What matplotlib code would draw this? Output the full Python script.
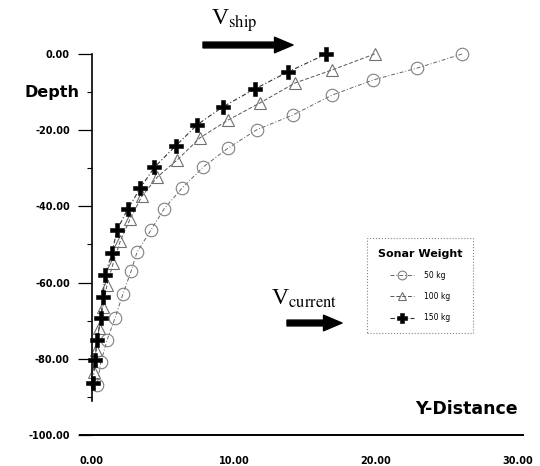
import numpy as np
import matplotlib
matplotlib.use('Agg')
import matplotlib.pyplot as plt

# datos (Y-Distance, Depth)
x_50 = [26.06, 22.9, 19.8, 16.9, 14.15, 11.6, 9.58, 7.82, 6.34, 5.07, 4.15, 3.17, 2.75, 2.18, 1.62, 1.06, 0.63, 0.35]
y_50 = [0.0, -3.7, -6.8, -10.8, -16.0, -19.9, -24.7, -29.7, -35.2, -40.7, -46.2, -52.0, -57.0, -63.0, -69.3, -75.1, -80.8, -86.9]

x_100 = [19.9, 16.9, 14.3, 11.8, 9.6, 7.6, 6.0, 4.6, 3.5, 2.7, 2.0, 1.5, 1.06, 0.77, 0.49, 0.28, 0.14]
y_100 = [0.0, -4.2, -7.6, -12.9, -17.3, -22.0, -27.8, -32.3, -37.4, -43.2, -49.0, -54.8, -60.5, -66.3, -72.0, -77.8, -83.5]

x_150 = [16.5, 13.8, 11.5, 9.2, 7.4, 5.9, 4.4, 3.4, 2.5, 1.76, 1.41, 0.92, 0.77, 0.63, 0.35, 0.21, 0.07]
y_150 = [0.0, -4.7, -9.1, -13.9, -18.6, -24.1, -29.7, -35.2, -40.8, -46.2, -52.2, -58.0, -63.8, -69.3, -75.1, -80.3, -86.4]

etiquetas = ['50 kg', '100 kg', '150 kg']
y_ticks = [0, -20, -40, -60, -80, -100]
x_ticks = [0, 10, 20, 30]

plt.rcParams['mathtext.fontset'] = 'stix'

W, H = 540, 466
fig = plt.figure(figsize=(W / 100, H / 100), dpi=100)
ax = fig.add_axes([0, 0, 1, 1])
ax.patch.set_alpha(0)


def fr(px, py):
    # pixel de la imagen -> fraccion de ejes
    return px / W, 1 - py / H


# escalas: x=0 en px 92 (14.2 px/unidad), y=0 en px 54 (3.81 px/unidad)
ax.set_xlim(-92 / 14.2, (W - 92) / 14.2)
ax.set_ylim(-(H - 54) / 3.81, 54 / 3.81)

ax.plot(x_50, y_50, linestyle=(0, (4, 2, 1, 2)), color='#666666', lw=0.7,
        marker='o', ms=9, mfc='none', mec='#808080', mew=0.8, label=etiquetas[0])
ax.plot(x_100, y_100, linestyle=(0, (4, 2)), color='#555555', lw=0.7,
        marker='^', ms=9, mfc='none', mec='#707070', mew=0.8, label=etiquetas[1])
ax.plot(x_150, y_150, linestyle=(0, (4, 2, 1, 2)), color='#333333', lw=0.8,
        marker='P', ms=10, mfc='black', mec='black', mew=0.4, label=etiquetas[2])

# ejes
for s in ['top', 'right']:
    ax.spines[s].set_visible(False)
ax.spines['left'].set_position(('data', 0))
ax.spines['left'].set_bounds(-91, 0)
ax.spines['left'].set_linewidth(1.2)
ax.spines['bottom'].set_position(('data', -100))
ax.spines['bottom'].set_bounds(-0.85, 30.35)
ax.spines['bottom'].set_linewidth(1.4)

ax.set_yticks(y_ticks)
ax.set_yticklabels(['%.2f' % v for v in y_ticks])
ax.set_yticks([-10, -30, -50, -70, -90], minor=True)
ax.tick_params(axis='y', which='major', direction='out', length=10, width=0.9, pad=6,
               labelsize=7)
ax.tick_params(axis='y', which='minor', direction='out', length=3.5, width=0.8)
ax.set_xticks(x_ticks)
ax.set_xticklabels(['%.2f' % v for v in x_ticks])
ax.tick_params(axis='x', length=0, pad=15, labelsize=7)
for t in ax.get_xticklabels() + ax.get_yticklabels():
    t.set_fontweight('bold')

ax.text(-0.85, -10, 'Depth', ha='right', va='center', fontsize=11.5, fontweight='bold')
ax.text(30.0, -93.2, 'Y-Distance', ha='right', va='center', fontsize=12.5, fontweight='bold')

# flechas y textos de velocidad
flecha = dict(arrowstyle='simple,head_length=0.95,head_width=0.8,tail_width=0.3',
              color='black', mutation_scale=14, shrinkA=0, shrinkB=0)
ax.annotate('', xy=fr(293, 45), xytext=fr(203, 45), xycoords='axes fraction',
            textcoords='axes fraction', arrowprops=flecha)
ax.annotate('', xy=fr(342, 323), xytext=fr(287, 323), xycoords='axes fraction',
            textcoords='axes fraction', arrowprops=flecha)
ax.text(*fr(211, 25), r'V$_{\rm ship}$', transform=ax.transAxes, fontsize=17,
        family='Liberation Serif', ha='left', va='baseline')
ax.text(*fr(271, 305), r'V$_{\rm current}$', transform=ax.transAxes, fontsize=17,
        family='Liberation Serif', ha='left', va='baseline')

leg = ax.legend(loc='upper left', bbox_to_anchor=fr(367, 238), title='Sonar Weight',
                fontsize=5.5, title_fontproperties={'weight': 'bold', 'size': 8},
                frameon=True, fancybox=False, handlelength=3.2, labelspacing=1.6,
                borderpad=1.4, handletextpad=1.2, borderaxespad=0, markerscale=0.7)
leg.get_frame().set_linestyle(':')
leg.get_frame().set_edgecolor('#666666')
leg.get_frame().set_linewidth(0.8)

plt.savefig('out.png', dpi=100)
